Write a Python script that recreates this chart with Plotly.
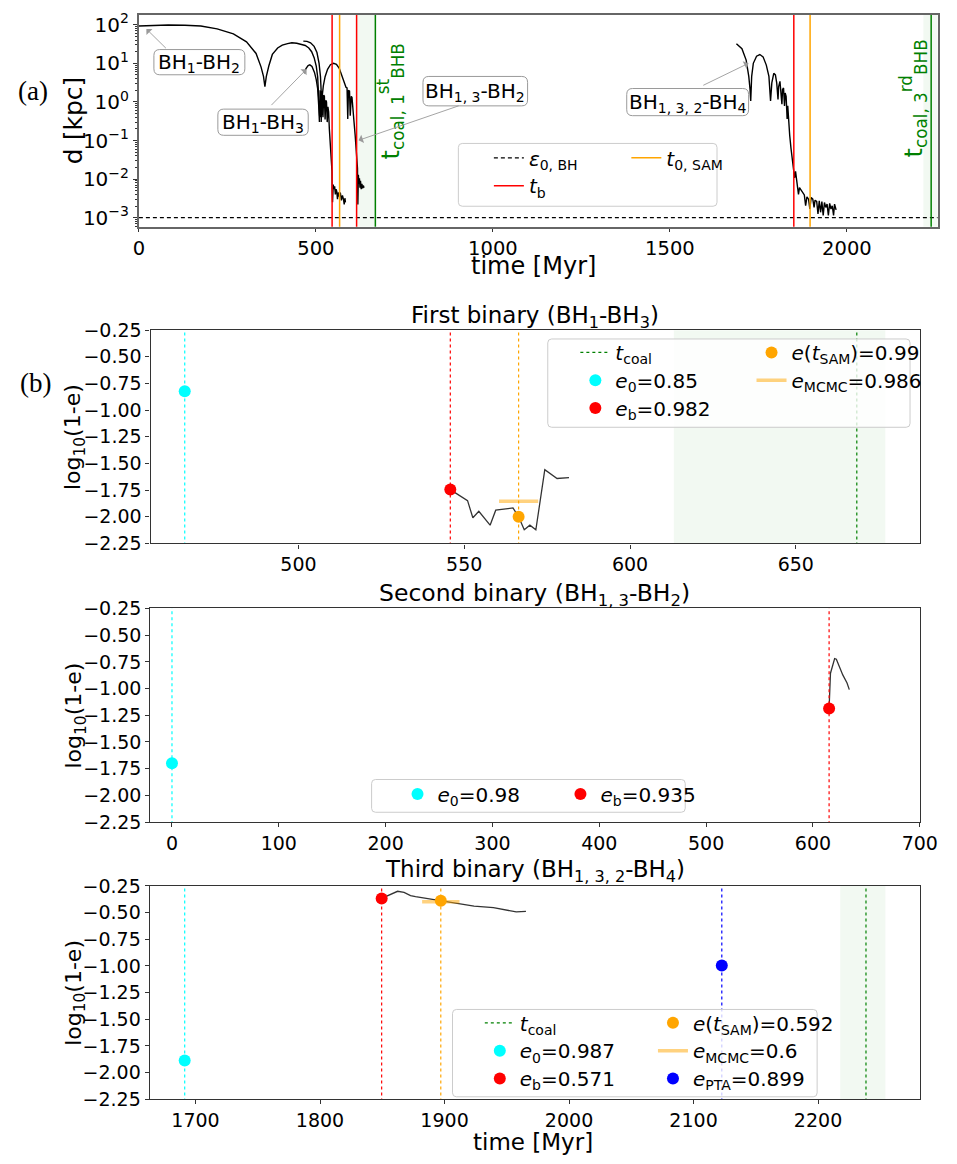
import math
import plotly.graph_objects as go

W, H = 957, 1164
FONT = "DejaVu Sans"

# ---------------- (a) pair separations: time [Myr], d [kpc] ----------------
bh12_t = [0, 40, 83, 130, 175, 221, 267, 304, 331, 345, 352, 356, 360, 367, 377, 392, 405,
          420, 432, 446, 460, 470, 480, 488, 495, 501, 505, 508, 510.5]
bh12_d = [93, 97, 98, 97, 93, 78, 58, 36, 18, 8.1, 4.6, 2.5, 4.6, 8.5, 17, 25, 29.5,
          32.5, 34, 33, 31, 29, 25, 20, 14, 8.5, 4.5, 1.8, 0.44]

bh23_t = [464.5, 475, 485, 495, 503, 509, 513, 516, 518]
bh23_d = [37.6, 37, 34, 27.5, 19, 10, 4.5, 1.5, 0.45]

bh13_t = [467, 472, 478, 483, 489, 496, 501, 505, 508, 510, 512, 514, 516, 518, 520, 522,
          524, 526, 528, 530, 532, 534, 536, 538, 540, 542, 544, 545.5, 546, 547, 549, 551,
          553, 555, 557, 559, 561, 563, 566, 569, 572, 575, 578, 580, 582, 583.5]
bh13_d = [5.5, 7.3, 8.7, 9.1, 8.3, 5.8, 3.8, 2.2, 0.8, 0.3, 2.0, 0.4, 1.9, 1.7, 0.4, 1.5,
          1.4, 0.35, 1.1, 1.0, 0.3, 0.75, 0.55, 0.2, 0.1, 0.045, 0.025, 0.016, 0.005, 0.0025,
          0.0072, 0.0055, 0.0065, 0.004, 0.0055, 0.0048, 0.003, 0.0045, 0.0035, 0.0045,
          0.0028, 0.0038, 0.003, 0.0022, 0.0032, 0.0025]

bh132_t = [515, 517, 521, 526, 533, 541, 550, 558, 566, 574, 580, 585, 588, 590, 592, 595,
           597, 600, 602, 604, 607, 611, 614, 616, 617.5, 618.5, 620, 621.5, 623, 624.5,
           626, 628, 630, 632, 634, 636]
bh132_d = [0.3, 1.2, 2.6, 4.5, 7, 9.2, 10, 9.4, 7.4, 4.5, 3.3, 2.4, 2.3, 0.36, 2.0, 1.9,
           0.44, 1.4, 1.3, 0.54, 0.36, 0.135, 0.06, 0.05, 0.019, 0.0022, 0.013, 0.0075,
           0.0105, 0.006, 0.009, 0.0055, 0.0075, 0.0058, 0.0068, 0.006]

bh1324_t = [1687.9, 1703.5, 1715.4, 1722.8, 1726.4, 1728.3, 1731, 1735.6, 1744.8, 1754,
            1763.2, 1772.3, 1779.7, 1784.3, 1787.9, 1793.4, 1798, 1801.7, 1805.4, 1807.2,
            1810.9, 1813.6, 1816.4, 1818.2, 1821, 1823.7, 1825.6, 1828.3, 1831.1, 1832.9,
            1835.7, 1838.4, 1842.1, 1845.8, 1849.4, 1852.2, 1854.9, 1857.7, 1860.5, 1863.2,
            1866, 1870.5, 1875.1, 1879.7, 1883.4, 1887.1, 1891.7, 1895.3, 1899, 1903.6,
            1907.3, 1910, 1914.6, 1918.3, 1921.9, 1925.6, 1929.3, 1933, 1936.6, 1940.3,
            1944, 1947.6, 1951.3, 1955, 1958.6, 1962.3, 1965.1, 1969.5]
bh1324_d = [32.2, 24, 12.1, 4.6, 2.1, 1.06, 4.6, 10, 15.3, 16.9,
            14.7, 9.0, 4.6, 1.06, 3.1, 5.5, 5.0, 3.1, 1.16, 2.5,
            3.4, 1.9, 0.87, 2.1, 2.3, 0.79, 1.7, 1.4, 0.36, 0.79,
            0.22, 0.136, 0.062, 0.035, 0.019, 0.0107, 0.0158, 0.0088, 0.0066, 0.004,
            0.006, 0.0051, 0.0045, 0.0039, 0.00204, 0.00346, 0.00302, 0.00168, 0.00333, 0.00302,
            0.00185, 0.00284, 0.00263, 0.00126, 0.00274, 0.00138, 0.0026, 0.00114, 0.00248, 0.00185,
            0.00225, 0.00114, 0.00234, 0.00168, 0.00204, 0.00114, 0.00225, 0.0016]

eps0_bh = 1e-3
a_tb = [545.8, 615, 1850]
a_tsam = [567, 1896]
a_tcoal = [668, 2238]
a_coal_band = [(614, 668), (2216, 2260)]

# ---------------- (b) first binary (BH1-BH3) ----------------
b_curve_t = [545.8, 551.0, 552.6, 554.4, 557.8, 559.5, 564.7, 566.4, 568.1, 569.8, 571.6,
             574.3, 578.0, 581.6]
b_curve_y = [-1.745, -1.849, -2.009, -1.948, -2.079, -1.938, -1.917, -2.0, -2.122, -2.079,
             -2.122, -1.559, -1.641, -1.632]
b_t0, b_e0 = 465.7, 0.85
b_tb, b_eb = 545.8, 0.982
b_tsam, b_esam = 566.4, 0.99
b_mcmc_t, b_emcmc = [560.5, 572.3], 0.986
b_tcoal = 668.4
b_band = (613.2, 677)

# ---------------- (c) second binary (BH1,3-BH2) ----------------
c_curve_t = [615.1, 616.4, 620.3, 621.9, 627.9, 631.9, 634.0]
c_curve_y = [-1.187, -0.856, -0.719, -0.725, -0.872, -0.948, -1.010]
c_t0, c_e0 = 0, 0.98
c_tb, c_eb = 615.1, 0.935

# ---------------- (d) third binary (BH1,3,2-BH4) ----------------
d_curve_t = [1849.5, 1862.3, 1867.5, 1872.7, 1876.7, 1884.5, 1897.0, 1913.2, 1923.7,
             1939.3, 1947.2, 1957.6, 1965.4]
d_curve_y = [-0.3675, -0.301, -0.311, -0.342, -0.351, -0.366, -0.389, -0.425, -0.440,
             -0.455, -0.473, -0.494, -0.489]
d_t0, d_e0 = 1691.3, 0.987
d_tb, d_eb = 1849.5, 0.571
d_tsam, d_esam = 1897.0, 0.592
d_mcmc_t, d_emcmc = [1882.0, 1912.0], 0.6
d_tpta, d_epta = 2122.7, 0.899
d_tcoal = 2238.5
d_band = (2217.8, 2254.1)

ecc_ticks = [-2.25, -2.0, -1.75, -1.5, -1.25, -1.0, -0.75, -0.5, -0.25]


def lg(e):
    return math.log10(1 - e)


def px(x):
    return x / W


def py(y):
    return 1 - y / H


def rounded_box(x0, y0, x1, y1, r=4.0):
    """Rounded rectangle path (pixel corners -> paper coordinates)."""
    rx, ry = r / W, r / H
    X0, X1 = px(x0), px(x1)
    Y0, Y1 = py(y0), py(y1)  # Y0 is the top
    return (f"M{X0+rx},{Y0} L{X1-rx},{Y0} Q{X1},{Y0} {X1},{Y0-ry} "
            f"L{X1},{Y1+ry} Q{X1},{Y1} {X1-rx},{Y1} L{X0+rx},{Y1} "
            f"Q{X0},{Y1} {X0},{Y1+ry} L{X0},{Y0-ry} Q{X0},{Y0} {X0+rx},{Y0} Z")


fig = go.Figure()
layout = {}

# every legend entry gets its own small legend, placed at its row / column
LEG = dict(bgcolor="rgba(0,0,0,0)", borderwidth=0, xanchor="left", yanchor="middle",
           xref="paper", yref="paper", font=dict(family=FONT, size=20, color="black"),
           itemwidth=30)
_leg_count = [0]


def legend_at(tx, ty):
    _leg_count[0] += 1
    n = _leg_count[0]
    name = "legend" if n == 1 else f"legend{n}"
    layout[name] = dict(LEG, x=px(tx - 32), y=py(ty - 2))
    return name


# ---- panel (a) traces ----
for t, d in [(bh12_t, bh12_d), (bh23_t, bh23_d), (bh13_t, bh13_d),
             (bh132_t, bh132_d), (bh1324_t, bh1324_d)]:
    fig.add_trace(go.Scatter(x=t, y=d, mode="lines", line=dict(color="black", width=1.4),
                             showlegend=False, xaxis="x", yaxis="y"))

fig.add_trace(go.Scatter(x=[0, 2300], y=[eps0_bh, eps0_bh], mode="lines",
                         line=dict(color="black", width=1.2, dash="4px,3px"),
                         name="<i>ε</i><sub>0, BH</sub>", legend=legend_at(527.3, 151.7),
                         xaxis="x", yaxis="y"))


def vlines(ts, lo, hi):
    xs, ys = [], []
    for t in ts:
        xs += [t, t, None]
        ys += [lo, hi, None]
    return xs, ys


xs, ys = vlines(a_tb, 1e-4, 1e3)
fig.add_trace(go.Scatter(x=xs, y=ys, mode="lines", line=dict(color="red", width=1.5),
                         name="<i>t</i><sub>b</sub>", legend=legend_at(527.3, 180.0),
                         xaxis="x", yaxis="y"))
xs, ys = vlines(a_tsam, 1e-4, 1e3)
fig.add_trace(go.Scatter(x=xs, y=ys, mode="lines", line=dict(color="orange", width=1.5),
                         name="<i>t</i><sub>0, SAM</sub>", legend=legend_at(668.3, 151.7),
                         xaxis="x", yaxis="y"))
xs, ys = vlines(a_tcoal, 1e-4, 1e3)
fig.add_trace(go.Scatter(x=xs, y=ys, mode="lines", line=dict(color="green", width=1.5),
                         showlegend=False, xaxis="x", yaxis="y"))

shapes = []
for lo, hi in a_coal_band:
    shapes.append(dict(type="rect", xref="x", yref="y domain", x0=lo, x1=hi, y0=0, y1=1,
                       fillcolor="rgba(0,128,0,0.05)", line=dict(width=0), layer="below"))


def ecc_panel(xa, ya, curve_t, curve_y, pts, vl, mcmc=None, coal=None, band=None):
    fig.add_trace(go.Scatter(x=curve_t, y=curve_y, mode="lines",
                             line=dict(color="rgba(0,0,0,0.8)", width=1.3),
                             showlegend=False, xaxis=xa, yaxis=ya))
    if band is not None:
        shapes.append(dict(type="rect", xref=xa, yref=f"{ya} domain", x0=band[0], x1=band[1],
                           y0=0, y1=1, fillcolor="rgba(0,128,0,0.05)", line=dict(width=0),
                           layer="below"))
    if coal is not None:
        t, pos = coal
        fig.add_trace(go.Scatter(x=[t, t], y=[-3, 0], mode="lines",
                                 line=dict(color="green", width=1.2, dash="dot"),
                                 name="<i>t</i><sub>coal</sub>", legend=legend_at(*pos),
                                 xaxis=xa, yaxis=ya))
    for t, col in vl:
        fig.add_trace(go.Scatter(x=[t, t], y=[-3, 0], mode="lines",
                                 line=dict(color=col, width=1.2, dash="dot"),
                                 showlegend=False, xaxis=xa, yaxis=ya))
    for t, e, col, label, pos in pts:
        fig.add_trace(go.Scatter(x=[t], y=[lg(e)], mode="markers",
                                 marker=dict(color=col, size=12), name=label,
                                 legend=legend_at(*pos), cliponaxis=False,
                                 xaxis=xa, yaxis=ya))
    if mcmc is not None:
        ts, e, pos = mcmc
        fig.add_trace(go.Scatter(x=ts, y=[lg(e), lg(e)], mode="lines",
                                 line=dict(color="rgba(255,165,0,0.5)", width=3.5),
                                 name=f"<i>e</i><sub>MCMC</sub>={e:g}", legend=legend_at(*pos),
                                 xaxis=xa, yaxis=ya))


# ---- panel (b) ----
ecc_panel("x2", "y2", b_curve_t, b_curve_y,
          [(b_t0, b_e0, "cyan", f"<i>e</i><sub>0</sub>={b_e0:g}", (616.0, 378.3)),
           (b_tb, b_eb, "red", f"<i>e</i><sub>b</sub>={b_eb:g}", (616.0, 406.7)),
           (b_tsam, b_esam, "orange", f"<i>e</i>(<i>t</i><sub>SAM</sub>)={b_esam:g}",
            (796.7, 350.0))],
          [(b_t0, "cyan"), (b_tb, "red"), (b_tsam, "orange")],
          mcmc=(b_mcmc_t, b_emcmc, (796.7, 378.3)), coal=(b_tcoal, (616.0, 350.0)),
          band=b_band)

# ---- panel (c) ----
ecc_panel("x3", "y3", c_curve_t, c_curve_y,
          [(c_t0, c_e0, "cyan", f"<i>e</i><sub>0</sub>={c_e0:g}", (433.6, 800.0)),
           (c_tb, c_eb, "red", f"<i>e</i><sub>b</sub>={c_eb:g}", (600.7, 800.0))],
          [(c_t0, "cyan"), (c_tb, "red")])

# ---- panel (d) ----
ecc_panel("x4", "y4", d_curve_t, d_curve_y,
          [(d_t0, d_e0, "cyan", f"<i>e</i><sub>0</sub>={d_e0:g}", (518.0, 1061.7)),
           (d_tb, d_eb, "red", f"<i>e</i><sub>b</sub>={d_eb:g}", (518.0, 1090.0)),
           (d_tsam, d_esam, "orange", f"<i>e</i>(<i>t</i><sub>SAM</sub>)={d_esam:g}",
            (695.6, 1033.3)),
           (d_tpta, d_epta, "blue", f"<i>e</i><sub>PTA</sub>={d_epta:g}", (695.6, 1090.0))],
          [(d_t0, "cyan"), (d_tb, "red"), (d_tsam, "orange"), (d_tpta, "blue")],
          mcmc=(d_mcmc_t, d_emcmc, (695.6, 1061.7)), coal=(d_tcoal, (518.0, 1033.3)),
          band=d_band)

# ---- axes ----
AX = dict(showgrid=False, zeroline=False, showline=True, mirror=True, linecolor="#333",
          linewidth=1.2, ticks="outside", ticklen=4, tickwidth=1, tickcolor="#333",
          tickfont=dict(family=FONT, size=19, color="black"))


def dom_x(x0, x1):
    return [px(x0), px(x1)]


def dom_y(y0, y1):
    return [py(y1), py(y0)]


layout.update(
    width=W, height=H, margin=dict(l=0, r=0, t=0, b=0),
    paper_bgcolor="white", plot_bgcolor="white",
    font=dict(family=FONT, size=18, color="black"),
    xaxis=dict(AX, domain=dom_x(136.3, 955.5), range=[0, 2256], anchor="y",
               tickvals=[0, 500, 1000, 1500, 2000], linecolor="#666", linewidth=1.8,
               ticklen=3, tickfont=dict(family=FONT, size=19.5, color="black")),
    yaxis=dict(AX, domain=dom_y(4, 220), type="log", range=[-3.237, 2.254], anchor="x",
               tickvals=[1e-3, 1e-2, 1e-1, 1, 10, 100],
               ticktext=["10<sup>−3</sup>", "10<sup>−2</sup>", "10<sup>−1</sup>",
                         "10<sup>0</sup>", "10<sup>1</sup>", "10<sup>2</sup>"],
               minor=dict(ticks="outside", ticklen=2, tickcolor="#333",
                          tickvals=[k * 10 ** p for p in range(-4, 3) for k in range(2, 10)]),
               linecolor="#666", linewidth=1.8,
               tickfont=dict(family=FONT, size=20, color="black")),
    xaxis2=dict(AX, domain=dom_x(148.3, 937.3), range=[455.4, 687.4], anchor="y2",
                tickvals=[500, 550, 600, 650]),
    yaxis2=dict(AX, domain=dom_y(325.3, 542.7), range=[-2.25, -0.25], anchor="x2",
                tickvals=ecc_ticks, tickformat=".2f"),
    xaxis3=dict(AX, domain=dom_x(148.0, 937.3), range=[-20.3, 700], anchor="y3",
                tickvals=[0, 100, 200, 300, 400, 500, 600, 700]),
    yaxis3=dict(AX, domain=dom_y(609.0, 826.7), range=[-2.25, -0.25], anchor="x3",
                tickvals=ecc_ticks, tickformat=".2f"),
    xaxis4=dict(AX, domain=dom_x(147.4, 937.4), range=[1663.2, 2281.8], anchor="y4",
                tickvals=[1700, 1800, 1900, 2000, 2100, 2200]),
    yaxis4=dict(AX, domain=dom_y(891.7, 1109.3), range=[-2.25, -0.25], anchor="x4",
                tickvals=ecc_ticks, tickformat=".2f"),
    shapes=shapes,
)

# legend frames (semi-transparent, rounded)
frames = [(464.0, 135.0, 729.3, 199.0), (555.7, 334.3, 927.3, 424.3),
          (375.0, 783.3, 696.7, 816.7), (458.0, 1017.7, 832.0, 1106.7)]
for x0, y0, x1, y1 in frames:
    shapes.append(dict(type="path", xref="paper", yref="paper", path=rounded_box(x0, y0, x1, y1),
                       fillcolor="rgba(255,255,255,0.8)", line=dict(color="#cccccc", width=1),
                       layer="above"))

# ---- text: panel labels, axis titles, panel titles, annotations ----
ann = []


def text(x, y, s, size=20, angle=0, color="black", family=FONT):
    ann.append(dict(xref="paper", yref="paper", x=px(x), y=py(y), text=s, showarrow=False,
                    xanchor="center", yanchor="middle", textangle=angle,
                    font=dict(family=family, size=size, color=color)))


text(28, 82, "(a)", size=27, family="Liberation Serif")
text(30, 379, "(b)", size=27, family="Liberation Serif")
text(70, 112, "d [kpc]", size=25, angle=-90)
text(541, 260, "time [Myr]", size=24)
text(541, 1153, "time [Myr]", size=23)
for yc in [(325.3 + 542.7) / 2, (609 + 826.7) / 2, (891.7 + 1109.3) / 2]:
    text(71, yc, "log<sub>10</sub>(1-e)", size=22, angle=-90)
text(542.8, 312, "First binary (BH<sub>1</sub>-BH<sub>3</sub>)", size=23)
text(542.6, 595, "Second binary (BH<sub>1, 3</sub>-BH<sub>2</sub>)", size=23.5)
text(542.4, 877, "Third binary (BH<sub>1, 3, 2</sub>-BH<sub>4</sub>)", size=23)
text(394, 92, "t<sub>coal, 1</sub><sup>st</sup><sub>BHB</sub>", size=24, angle=-90, color="green")
text(930.5, 89, "t<sub>coal, 3</sub><sup>rd</sup><sub>BHB</sub>", size=24, angle=-90, color="green")

# labelled pairs in panel (a): rounded boxes with arrows to the curves
labels = [
    ("BH<sub>1</sub>-BH<sub>2</sub>", (151.7, 39.3, 245.0, 65.0), (21.2, 1.89), (21, 20.7)),
    ("BH<sub>1</sub>-BH<sub>3</sub>", (217.3, 100.0, 310.0, 126.7), (473.6, 0.847), (-36.6, 37.4)),
    ("BH<sub>1, 3</sub>-BH<sub>2</sub>", (427.7, 66.7, 535.0, 96.7), (620.6, -0.995), (101.6, -35.0)),
    ("BH<sub>1, 3, 2</sub>-BH<sub>4</sub>", (636.7, 79.0, 761.7, 106.7), (1722.0, 1.0), (-46.7, 22.7)),
]
for s, (x0, y0, x1, y1), (tx, tlogd), (dx, dy) in labels:
    shapes.append(dict(type="path", xref="paper", yref="paper", path=rounded_box(x0, y0, x1, y1, 6),
                       fillcolor="white", line=dict(color="#9a9a9a", width=1), layer="above"))
    text((x0 + x1) / 2, (y0 + y1) / 2 + 1, s, size=20)
    ann.append(dict(xref="x", yref="y", x=tx, y=tlogd, ax=dx, ay=dy, text="", showarrow=True,
                    arrowhead=1, arrowsize=1.6, arrowwidth=0.9, arrowcolor="#9a9a9a"))

layout["annotations"] = ann
fig.update_layout(**layout)
fig.write_html("out.html")
